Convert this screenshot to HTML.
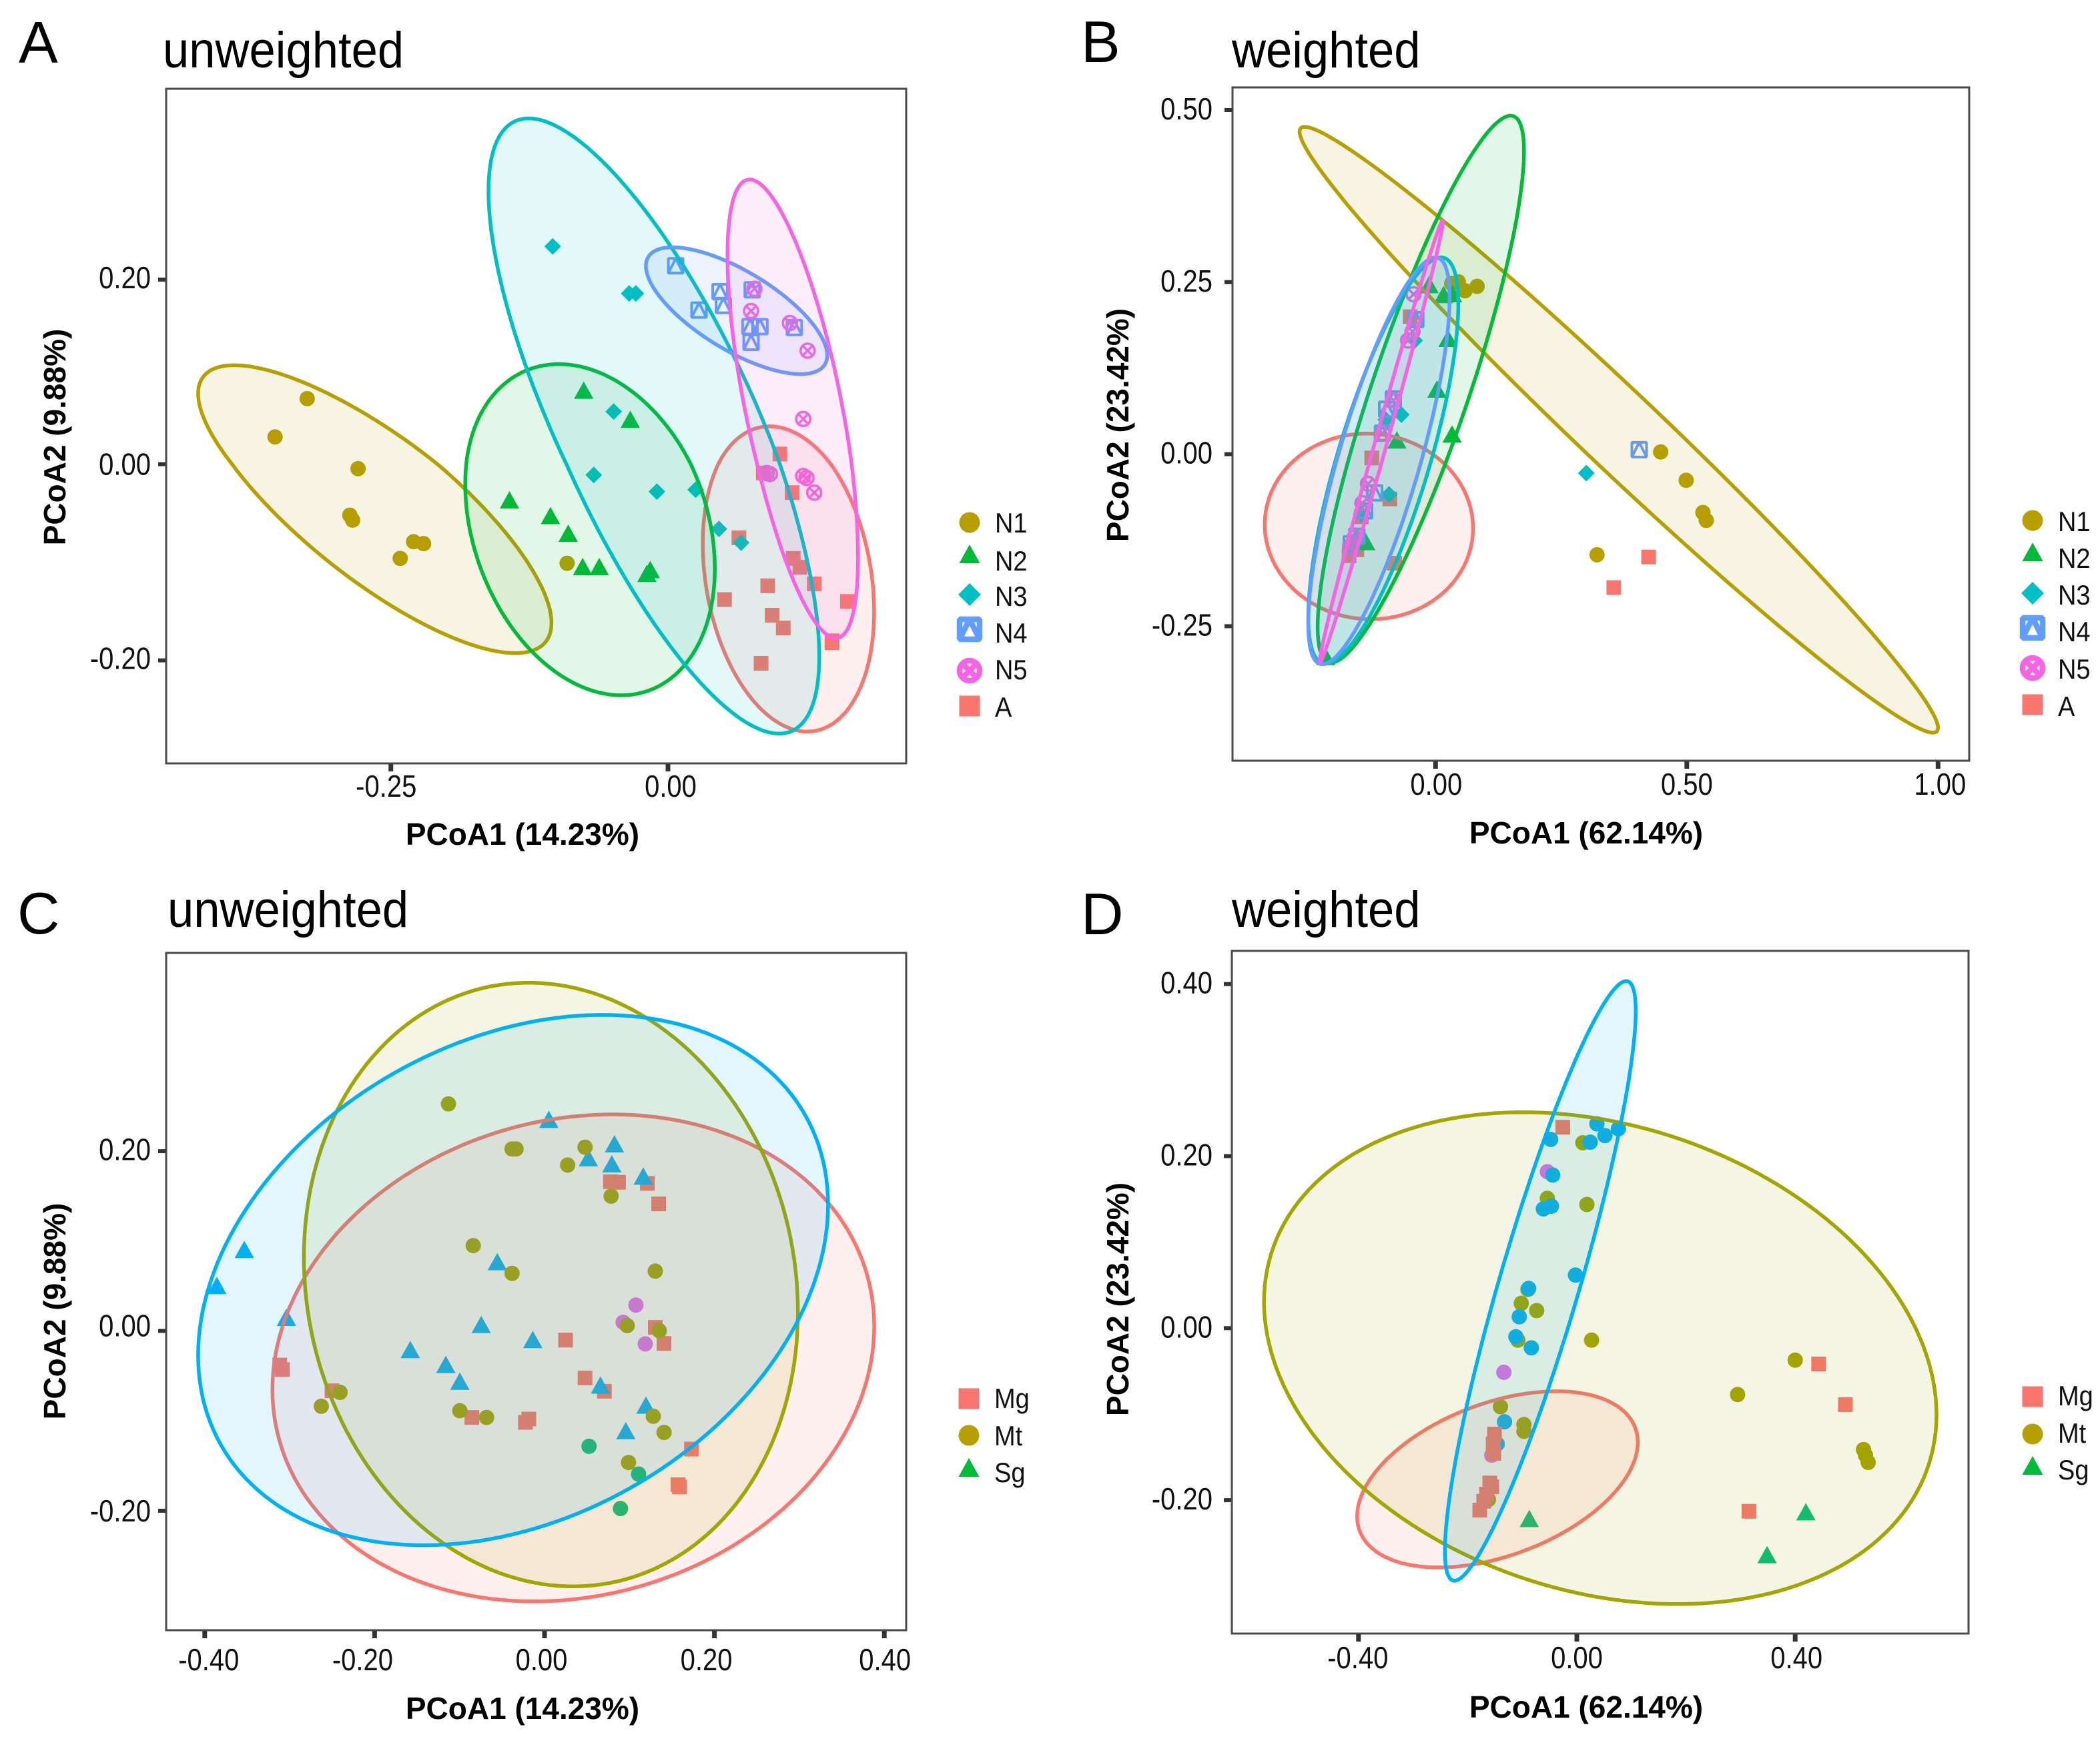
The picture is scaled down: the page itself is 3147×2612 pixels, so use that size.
<!DOCTYPE html>
<html lang="en">
<head>
<meta charset="utf-8">
<title>PCoA panels</title>
<style>
html,body{margin:0;padding:0;background:#fff;}
svg{display:block;font-family:"Liberation Sans",Arial,sans-serif;}
</style>
</head>
<body>
<svg id="figure" xmlns="http://www.w3.org/2000/svg" width="3147" height="2612" viewBox="0 0 3147 2612">
<rect x="0" y="0" width="3147" height="2612" fill="#fff"/>
<text x="28" y="94" font-size="88" fill="#000">A</text>
<text x="1620" y="93" font-size="88" fill="#000">B</text>
<text x="26" y="1399" font-size="88" fill="#000">C</text>
<text x="1620" y="1400" font-size="88" fill="#000">D</text>
<text transform="translate(244,101) scale(1,1.08)" font-size="70.6" fill="#000">unweighted</text>
<text transform="translate(1846,101) scale(1,1.08)" font-size="70.6" fill="#000">weighted</text>
<text transform="translate(251,1389) scale(1,1.08)" font-size="70.6" fill="#000">unweighted</text>
<text transform="translate(1846,1389) scale(1,1.08)" font-size="70.6" fill="#000">weighted</text>
<text x="783" y="1266" font-size="46" font-weight="bold" text-anchor="middle" fill="#000">PCoA1 (14.23%)</text>
<text x="2377" y="1264" font-size="46" font-weight="bold" text-anchor="middle" fill="#000">PCoA1 (62.14%)</text>
<text x="783" y="2576" font-size="46" font-weight="bold" text-anchor="middle" fill="#000">PCoA1 (14.23%)</text>
<text x="2377" y="2574" font-size="46" font-weight="bold" text-anchor="middle" fill="#000">PCoA1 (62.14%)</text>
<text transform="translate(98,655) rotate(-90)" font-size="46" font-weight="bold" text-anchor="middle" fill="#000">PCoA2 (9.88%)</text>
<text transform="translate(1691,637) rotate(-90)" font-size="46" font-weight="bold" text-anchor="middle" fill="#000">PCoA2 (23.42%)</text>
<text transform="translate(98,1965) rotate(-90)" font-size="46" font-weight="bold" text-anchor="middle" fill="#000">PCoA2 (9.88%)</text>
<text transform="translate(1691,1947) rotate(-90)" font-size="46" font-weight="bold" text-anchor="middle" fill="#000">PCoA2 (23.42%)</text>
</svg>
<script>
/* ---------- Panel A data ---------- */
const aN1X=[-0.3255,-0.3545,-0.2796,-0.287,-0.2845,-0.2295,-0.2205,-0.2416,-0.091];
const aN1Y=[0.071,0.0295,-0.0045,-0.052,-0.057,-0.079,-0.081,-0.096,-0.101];
const aN2X=[-0.076,-0.034,-0.143,-0.106,-0.09,-0.077,-0.062,-0.016,-0.019];
const aN2Y=[0.0795,0.048,-0.037,-0.053,-0.071,-0.105,-0.105,-0.108,-0.112];
const aN3X=[-0.104,-0.035,-0.029,-0.049,-0.067,-0.01,0.025,0.046,0.066];
const aN3Y=[0.236,0.185,0.185,0.057,-0.011,-0.028,-0.026,-0.066,-0.08];
const aN4X=[0.007,0.047,0.05,0.028,0.076,0.074,0.083,0.075,0.114];
const aN4Y=[0.215,0.187,0.172,0.167,0.189,0.149,0.149,0.132,0.148];
const aN5X=[0.078,0.075,0.11,0.126,0.122,0.089,0.092,0.122,0.125,0.132];
const aN5Y=[0.19,0.166,0.153,0.123,0.049,-0.009,-0.01,-0.012,-0.014,-0.029];
const aAX=[0.101,0.086,0.112,0.064,0.113,0.119,0.09,0.132,0.051,0.162,0.094,0.104,0.148,0.148,0.084];
const aAY=[0.011,-0.009,-0.029,-0.075,-0.096,-0.105,-0.124,-0.122,-0.138,-0.14,-0.154,-0.167,-0.18,-0.182,-0.203];
const aXTicks=[-0.25,0];
const aXTickLabels=['-0.25','0.00'];
const aYTicks=[-0.2,0,0.2];
const aYTickLabels=['-0.20','0.00','0.20'];
const aLegendLabels=['N1','N2','N3','N4','N5','A'];
const aEllipseNames=['A','N1','N2','N3','N4','N5'];
const aEllipseCx=[0.1087,-0.2645,-0.0703,-0.0127,0.0619,0.1126];
const aEllipseCy=[-0.1158,-0.0427,-0.0636,0.05,0.1663,0.0656];
const aEllipseSx=[0.0773,0.1594,0.1126,0.1492,0.0818,0.0589];
const aEllipseSy=[0.1568,0.1499,0.172,0.3247,0.0687,0.2429];
const aEllipseR=[-0.22,-0.795,-0.25,-0.757,-0.705,-0.66];

/* ---------- Panel B data ---------- */
const bN1X=[0.0453,0.0587,0.0827,0.032,0.448,0.4987,0.532,0.5387,0.3213];
const bN1Y=[0.2504,0.2375,0.2439,0.248,0.0032,-0.038,-0.0848,-0.0961,-0.1462];
const bN2X=[-0.0128,0.016,0.0337,0.0248,0.0027,-0.077,0.0328,-0.139,-0.2186];
const bN2Y=[0.2454,0.2311,0.2324,0.1674,0.0937,0.0197,0.0283,-0.128,-0.295];
const bN3X=[-0.0681,-0.0925,-0.0416,-0.0991,-0.1478,-0.1567,0.3];
const bN3Y=[0.0574,-0.0585,0.1651,0.05,-0.0867,-0.1258,-0.0275];
const bN4X=[-0.0393,-0.0973,-0.0841,-0.1057,-0.1212,-0.1412,-0.1567,-0.1677,0.4053];
const bN4Y=[0.1955,0.0653,0.0804,0.0305,-0.0563,-0.0823,-0.1193,-0.1302,0.0065];
const bN5X=[-0.0438,-0.0459,-0.0548,-0.0837,-0.1057,-0.1345,-0.1455,-0.1611,-0.17];
const bN5Y=[0.2324,0.1781,0.1651,0.0782,0.0305,-0.0431,-0.0712,-0.1214,-0.1342];
const bAX=[-0.0505,-0.127,-0.0911,-0.1478,-0.1721,-0.1567,-0.0814,0.424,0.3547];
const bAY=[0.1998,-0.0055,-0.065,-0.0911,-0.1475,-0.1388,-0.1584,-0.1494,-0.1939];
const bXTicks=[0,0.5,1];
const bXTickLabels=['0.00','0.50','1.00'];
const bYTicks=[-0.25,0,0.25,0.5];
const bYTickLabels=['-0.25','0.00','0.25','0.50'];
const bLegendLabels=['N1','N2','N3','N4','N5','A'];
const bEllipseNames=['A','N1','N2','N3','N4','N5'];
const bEllipseCx=[-0.1327,0.3647,-0.0293,-0.104,-0.1127,-0.108];
const bEllipseCy=[-0.105,0.0355,0.0945,-0.0093,-0.0097,0.0182];
const bEllipseSx=[0.2073,0.6353,0.2053,0.1493,0.1407,0.1227];
const bEllipseSy=[0.1349,0.4402,0.3974,0.2952,0.2956,0.3211];
const bEllipseR=[-0.02,-0.984,0.87,0.77,0.8,0.995];

/* ---------- Panel C data ---------- */
const cMgX=[0.0776,0.0871,0.121,0.1344,0.1304,0.1407,0.0248,0.0477,0.0705,-0.3117,-0.3085,-0.2502,-0.0855,-0.0185,-0.0225,0.173,0.1572,0.1588];
const cMgY=[0.166,0.1654,0.1642,0.1413,0.004,-0.0139,-0.0102,-0.0523,-0.0671,-0.038,-0.043,-0.0665,-0.0962,-0.098,-0.1017,-0.1314,-0.171,-0.1735];
const cMtX=[-0.1131,-0.0382,-0.0335,0.0477,0.0272,0.0784,-0.0839,-0.0382,0.1304,0.0973,0.1351,-0.2628,-0.2407,-0.0997,-0.0682,0.128,0.1407,0.0989];
const cMtY=[0.2526,0.2025,0.2025,0.2044,0.1846,0.15,0.0949,0.064,0.0665,0.0059,0.0003,-0.0838,-0.0683,-0.0887,-0.0962,-0.0949,-0.1129,-0.1463];
const cSgX=[0.0051,0.0823,0.0516,0.0792,0.1162,-0.3534,-0.0556,-0.3857,-0.3038,-0.0745,-0.0138,-0.158,-0.1162,-0.0997,0.0658,0.1194,0.0957];
const cSgY=[0.2347,0.2075,0.192,0.1852,0.1716,0.09,0.0764,0.0498,0.0145,0.0065,-0.0102,-0.0213,-0.038,-0.0566,-0.0609,-0.0832,-0.1116];
const cTealX=[0.0524,0.1107,0.0894];
const cTealY=[-0.1283,-0.1592,-0.1976];
const cPurpleX=[0.1076,0.0926,0.1186];
const cPurpleY=[0.0288,0.0096,-0.0145];
const cXTicks=[-0.4,-0.2,0,0.2,0.4];
const cXTickLabels=['-0.40','-0.20','0.00','0.20','0.40'];
const cYTicks=[-0.2,0,0.2];
const cYTickLabels=['-0.20','0.00','0.20'];
const cLegendLabels=['Mg','Mt','Sg'];
const cEllipseNames=['Mg','Mt','Sg'];
const cEllipseCx=[0.0339,0.0075,-0.037];
const cEllipseCy=[-0.03,0.0516,0.0566];
const cEllipseSx=[0.3542,0.2908,0.3708];
const cEllipseSy=[0.2709,0.3358,0.295];
const cEllipseR=[0.13,-0.09,0.284];

/* ---------- Panel D data ---------- */
const dMgX=[-0.0258,0.443,0.492,0.3153,-0.1509,-0.1534,-0.1521,-0.1595,-0.1558,-0.1656,-0.1706,-0.1779];
const dMgY=[0.2336,-0.0417,-0.0889,-0.2129,-0.1231,-0.1347,-0.1457,-0.18,-0.1845,-0.1929,-0.2013,-0.2116];
const dMtX=[0.011,-0.054,0.0184,-0.0896,-0.1018,-0.0736,-0.108,0.027,0.4,0.2945,-0.1399,-0.0969,-0.0969,0.5252,0.5288,0.5337,-0.162];
const dMtY=[0.2155,0.1509,0.1438,0.0449,0.0288,0.0204,-0.0139,-0.0139,-0.0372,-0.0772,-0.0914,-0.1121,-0.1199,-0.1412,-0.1477,-0.1561,-0.1993];
const dBlueX=[0.0368,0.0761,0.0515,0.0245,-0.0479,-0.0442,-0.0466,-0.0613,-0.0025,-0.0883,-0.1055,-0.1117,-0.0834,-0.1325,-0.146];
const dBlueY=[0.2375,0.2317,0.2239,0.2162,0.2194,0.178,0.1418,0.1386,0.0617,0.0462,0.0132,-0.01,-0.0229,-0.1089,-0.1347];
const dPurpleX=[-0.054,-0.1337,-0.1558];
const dPurpleY=[0.1819,-0.0514,-0.1477];
const dTealX=[-0.0871,0.4196,0.3485];
const dTealY=[-0.222,-0.2142,-0.264];
const dXTicks=[-0.4,0,0.4];
const dXTickLabels=['-0.40','0.00','0.40'];
const dYTicks=[-0.2,0,0.2,0.4];
const dYTickLabels=['-0.20','0.00','0.20','0.40'];
const dLegendLabels=['Mg','Mt','Sg'];
const dEllipseNames=['Mg','Mt','Sg'];
const dEllipseCx=[-0.1454,0.0429,-0.0669];
const dEllipseCy=[-0.1758,-0.0349,0.0549];
const dEllipseSx=[0.2571,0.616,0.1748];
const dEllipseSy=[0.1024,0.2859,0.3486];
const dEllipseR=[0.42,-0.23,0.9];

/* ---------- palette ---------- */
const RED='#F8766D',GOLD='#B79F00',GREEN='#00BA38',CYAN='#00BFC4',BLUE='#619CFF',PINK='#F564E3';
const OLIVE='#A3A500',TEAL='#00BF7D',SKY='#00B0F6',PURPLE='#E76BF3';

const panels=[
{id:'a',frame:[249,133,1358,1144],
 xs:{d:[0,1],r:[1001,2662]},ys:{d:[-0.2,0,0.2],r:[989.6,695.6,419]},
 xTicks:aXTicks,xLabels:aXTickLabels,yTicks:aYTicks,yLabels:aYTickLabels,
 xLabelBase:1194,yLabelRight:226,xNudge:[-7,4],yNudge:[-3,0,-3],
 series:[
  {n:'a',x:aAX,y:aAY,s:'square',c:RED},{n:'n1',x:aN1X,y:aN1Y,s:'circle',c:GOLD},
  {n:'n2',x:aN2X,y:aN2Y,s:'triangle',c:GREEN},{n:'n3',x:aN3X,y:aN3Y,s:'diamond',c:CYAN},
  {n:'n4',x:aN4X,y:aN4Y,s:'boxtri',c:BLUE},{n:'n5',x:aN5X,y:aN5Y,s:'circlex',c:PINK}],
 ell:{names:aEllipseNames,cx:aEllipseCx,cy:aEllipseCy,sx:aEllipseSx,sy:aEllipseSy,r:aEllipseR,colors:[RED,GOLD,GREEN,CYAN,BLUE,PINK]},
 legend:{labels:aLegendLabels,shapes:['circle','triangle','diamond','boxtri','circlex','square'],colors:[GOLD,GREEN,CYAN,BLUE,PINK,RED],
  mx:1453,my:[783,832,891,943,1005,1058],tx:1491,ty:[798,855,908,963,1018,1074]}},
{id:'b',frame:[1847,131,2951,1140],
 xs:{d:[0,1],r:[2151.3,2904.3]},ys:{d:[-0.25,0.5],r:[938.4,165]},
 xTicks:bXTicks,xLabels:bXTickLabels,yTicks:bYTicks,yLabels:bYTickLabels,
 xLabelBase:1191,yLabelRight:1817,xNudge:[1,0,3],yNudge:[-2,-2,-2,-2],
 series:[
  {n:'a',x:bAX,y:bAY,s:'square',c:RED},{n:'n1',x:bN1X,y:bN1Y,s:'circle',c:GOLD},
  {n:'n2',x:bN2X,y:bN2Y,s:'triangle',c:GREEN},{n:'n3',x:bN3X,y:bN3Y,s:'diamond',c:CYAN},
  {n:'n4',x:bN4X,y:bN4Y,s:'boxtri',c:BLUE},{n:'n5',x:bN5X,y:bN5Y,s:'circlex',c:PINK}],
 ell:{names:bEllipseNames,cx:bEllipseCx,cy:bEllipseCy,sx:bEllipseSx,sy:bEllipseSy,r:bEllipseR,colors:[RED,GOLD,GREEN,CYAN,BLUE,PINK]},
 legend:{labels:bLegendLabels,shapes:['circle','triangle','diamond','boxtri','circlex','square'],colors:[GOLD,GREEN,CYAN,BLUE,PINK,RED],
  mx:3046,my:[780,829,889,941,1001,1056],tx:3084,ty:[796,851,906,961,1017,1073]}},
{id:'c',frame:[249,1428,1358,2443],
 xs:{d:[0,1],r:[816,2089]},ys:{d:[0,1],r:[1994.5,647.5]},
 xTicks:cXTicks,xLabels:cXTickLabels,yTicks:cYTicks,yLabels:cYTickLabels,
 xLabelBase:2503,yLabelRight:226,xNudge:[6,-18,-4.5,-12,1],yNudge:[0,-8,-2.5],
 series:[
  {n:'mg',x:cMgX,y:cMgY,s:'square',c:RED},{n:'sg',x:cSgX,y:cSgY,s:'triangle',c:SKY},
  {n:'sg-circle',x:cTealX,y:cTealY,s:'circle',c:TEAL},{n:'other-circle',x:cPurpleX,y:cPurpleY,s:'circle',c:PURPLE},
  {n:'mt',x:cMtX,y:cMtY,s:'circle',c:OLIVE}],
 ell:{names:cEllipseNames,cx:cEllipseCx,cy:cEllipseCy,sx:cEllipseSx,sy:cEllipseSy,r:cEllipseR,colors:[RED,OLIVE,SKY]},
 legend:{labels:cLegendLabels,shapes:['square','circle','triangle'],colors:[RED,GOLD,GREEN],
  mx:1452,my:[2096,2151,2201],tx:1490,ty:[2110,2166,2221]}},
{id:'d',frame:[1846,1425,2950,2448],
 xs:{d:[0,1],r:[2363,3181]},ys:{d:[0,1],r:[1990.3,701.3]},
 xTicks:dXTicks,xLabels:dXTickLabels,yTicks:dYTicks,yLabels:dYTickLabels,
 xLabelBase:2500,yLabelRight:1817,xNudge:[-1,0,2],yNudge:[-2,-2,-2,-2],
 series:[
  {n:'sg-triangle',x:dTealX,y:dTealY,s:'triangle',c:TEAL},{n:'other-circle',x:dPurpleX,y:dPurpleY,s:'circle',c:PURPLE},
  {n:'mt',x:dMtX,y:dMtY,s:'circle',c:OLIVE},{n:'sg',x:dBlueX,y:dBlueY,s:'circle',c:SKY},
  {n:'mg',x:dMgX,y:dMgY,s:'square',c:RED}],
 ell:{names:dEllipseNames,cx:dEllipseCx,cy:dEllipseCy,sx:dEllipseSx,sy:dEllipseSy,r:dEllipseR,colors:[RED,OLIVE,SKY]},
 legend:{labels:dLegendLabels,shapes:['square','circle','triangle'],colors:[RED,GOLD,GREEN],
  mx:3046,my:[2093,2149,2198],tx:3084,ty:[2106,2162,2217]}}
];

const NS='http://www.w3.org/2000/svg';
const svg=document.getElementById('figure');

function scale(s){
  return function(v){
    const d=s.d,r=s.r;
    let i=0;
    while(i<d.length-2 && v>d[i+1]) i++;
    return r[i]+(v-d[i])*(r[i+1]-r[i])/(d[i+1]-d[i]);
  };
}
function make(tag,parent){
  const el=document.createElementNS(NS,tag);
  parent.appendChild(el);
  return el;
}
const pointSize={r:11.5,sq:11,tw:14.5,tup:14,tdn:12,dia:12.5,box:11,boxS:4,cx:10.5,cxS:3.6};
const legendSize={r:15.5,sq:15.5,tw:15.5,tup:16,tdn:12,dia:17,box:15,boxS:8.5,cx:15,cxS:8.5};
function markerPath(shape,x,y,z){
  const circ=(r)=>`M${x-r} ${y}a${r} ${r} 0 1 0 ${2*r} 0a${r} ${r} 0 1 0 ${-2*r} 0Z`;
  if(shape==='circle') return circ(z.r);
  if(shape==='square') return `M${x-z.sq} ${y-z.sq}h${2*z.sq}v${2*z.sq}h${-2*z.sq}Z`;
  if(shape==='triangle') return `M${x} ${y-z.tup}L${x+z.tw} ${y+z.tdn}L${x-z.tw} ${y+z.tdn}Z`;
  if(shape==='diamond') return `M${x} ${y-z.dia}L${x+z.dia} ${y}L${x} ${y+z.dia}L${x-z.dia} ${y}Z`;
  if(shape==='boxtri'){
    const b=z.box;
    return `M${x-b} ${y-b}h${2*b}v${2*b}h${-2*b}ZM${x-b} ${y+b}L${x} ${y-b}L${x+b} ${y+b}`;
  }
  const r=z.cx,k=r*0.707;
  return circ(r)+`M${x-k} ${y-k}L${x+k} ${y+k}M${x+k} ${y-k}L${x-k} ${y+k}`;
}
function styleMarker(el,shape,color,z){
  el.setAttribute('stroke-linejoin','bevel');
  if(shape==='boxtri'){
    el.setAttribute('fill','none');
    el.setAttribute('stroke',color);
    el.setAttribute('stroke-width',z.boxS);
  }else if(shape==='circlex'){
    el.setAttribute('fill','none');
    el.setAttribute('stroke',color);
    el.setAttribute('stroke-width',z.cxS);
  }else{
    el.setAttribute('fill',color);
  }
}
function ellipsePath(cx,cy,sx,sy,r,X,Y){
  const q=Math.sqrt(Math.max(0,1-r*r));
  const pts=[];
  for(let i=0;i<180;i++){
    const t=i/180*2*Math.PI;
    const vx=cx+sx*Math.cos(t);
    const vy=cy+sy*(r*Math.cos(t)+q*Math.sin(t));
    pts.push(X(vx).toFixed(1)+' '+Y(vy).toFixed(1));
  }
  return 'M'+pts.join('L')+'Z';
}

panels.forEach(function(p){
  const X=scale(p.xs),Y=scale(p.ys);
  const [x0,y0,x1,y1]=p.frame;

  const g=make('g',svg);
  
  

  const bg=make('rect',g);
  
  
  bg.setAttribute('x',x0);bg.setAttribute('y',y0);
  bg.setAttribute('width',x1-x0);bg.setAttribute('height',y1-y0);
  bg.setAttribute('fill','#fff');

  p.series.forEach(function(s){
    for(let i=0;i<s.x.length;i++){
      const m=make('path',g);
      
      
      m.setAttribute('d',markerPath(s.s,X(s.x[i]),Y(s.y[i]),pointSize));
      styleMarker(m,s.s,s.c,pointSize);
    }
  });

  p.ell.names.forEach(function(n,i){
    const e=make('path',g);
    
    
    e.setAttribute('d',ellipsePath(p.ell.cx[i],p.ell.cy[i],p.ell.sx[i],p.ell.sy[i],p.ell.r[i],X,Y));
    e.setAttribute('fill',p.ell.colors[i]);
    e.setAttribute('fill-opacity','0.11');
    e.setAttribute('stroke',p.ell.colors[i]);
    e.setAttribute('stroke-width','5.5');
    e.setAttribute('stroke-linejoin','round');
  });

  const fr=make('rect',g);
  
  
  fr.setAttribute('x',x0);fr.setAttribute('y',y0);
  fr.setAttribute('width',x1-x0);fr.setAttribute('height',y1-y0);
  fr.setAttribute('fill','none');
  fr.setAttribute('stroke','#4a4a4a');
  fr.setAttribute('stroke-width','3');

  p.xTicks.forEach(function(v,i){
    const t=make('rect',g);
    
    
    t.setAttribute('x',X(v)-3.5);t.setAttribute('y',y1+1);
    t.setAttribute('width',7);t.setAttribute('height',11);
    t.setAttribute('fill','#333');
    const l=make('text',g);
    
    
    l.setAttribute('transform','translate('+(X(v)+p.xNudge[i])+','+p.xLabelBase+') scale(1,1.15)');
    l.setAttribute('font-size','40');
    l.setAttribute('text-anchor','middle');
    l.setAttribute('fill','#111');
    l.textContent=p.xLabels[i];
  });
  p.yTicks.forEach(function(v,i){
    const t=make('rect',g);
    
    
    t.setAttribute('x',x0-12);t.setAttribute('y',Y(v)-3);
    t.setAttribute('width',11);t.setAttribute('height',6);
    t.setAttribute('fill','#333');
    const l=make('text',g);
    
    
    l.setAttribute('transform','translate('+p.yLabelRight+','+(Y(v)+16+p.yNudge[i])+') scale(1,1.15)');
    l.setAttribute('font-size','40');
    l.setAttribute('text-anchor','end');
    l.setAttribute('fill','#111');
    l.textContent=p.yLabels[i];
  });

  p.legend.labels.forEach(function(lab,i){
    const shape=p.legend.shapes[i];
    const m=make('path',g);
    
    
    m.setAttribute('d',markerPath(shape,p.legend.mx,p.legend.my[i],legendSize));
    styleMarker(m,shape,p.legend.colors[i],legendSize);
    const l=make('text',g);
    
    
    l.setAttribute('transform','translate('+p.legend.tx+','+p.legend.ty[i]+') scale(1,1.1)');
    l.setAttribute('font-size','38');
    l.setAttribute('fill','#111');
    l.textContent=lab;
  });
});
</script>
</body>
</html>
